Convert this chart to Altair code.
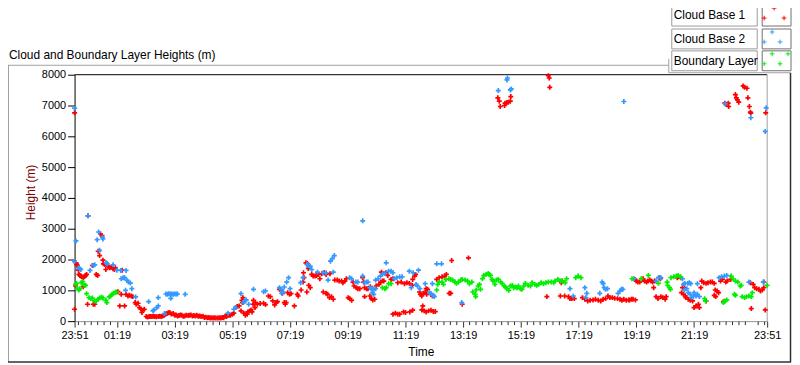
import altair as alt
import pandas as pd

# ---------------- data (minutes after 23:51, height in m) ----------------
series_names = ["Cloud Base 1", "Cloud Base 2", "Boundary Layer"]
series_colors = ["#ff0000", "#3399ff", "#00ee00"]

cb1 = [(0,6763),(0,387),(2,1140),(3,1890),(4,1840),(6,1815),(8,1655),(9,1516),(11,1484),(13,1462),(15,1440),(18,1410),(20,1440),(23,1484),(25,1516),(18,1120),(27,548),(39,548),(42,548),(28,3420),(37,1806),(45,1516),(48,1484),(49,2268),(52,2129),(54,2829),(57,2774),(59,1978),(60,1860),(63,1838),(66,1870),(70,1785),(73,1731),(76,1752),(80,1700),(83,1677),(85,1731),(65,1677),(90,957),(94,494),(104,494),(97,871),(99,1655),(107,871),(111,817),(114,839),(118,817),(121,796),(126,602),(128,548),(132,580),(135,441),(138,387),(142,355),(145,387),(140,280),
       (149,150),(152,130),(155,150),(158,150),(161,150),(164,160),(167,150),(170,140),(174,150),(177,160),(180,150),(183,170),(186,180),(189,230),(192,250),(195,270),(198,280),(201,230),(205,250),(208,190),(211,200),(214,170),(217,180),(220,200),(223,190),(226,160),(229,170),(232,190),(236,180),(239,190),(242,200),(245,170),(248,180),(251,170),(254,190),(257,160),(260,170),(263,150),(267,160),(270,120),(273,130),(276,110),(279,120),(282,100),(285,110),(288,100),(291,110),(294,100),(298,100),(301,110),(304,100),(307,120),(310,110),(313,170),(316,150),(319,190),(322,200),
       (324,194),(328,226),(331,258),(335,441),(338,474),(342,494),(346,333),(349,602),(350,763),(348,677),(352,258),(355,194),(359,226),(360,300),(364,333),(367,365),(369,300),(372,677),(376,602),(375,441),(371,548),(380,548),(386,570),(393,580),(397,538),(403,817),(407,796),(412,656),(416,527),(419,602),(422,634),(426,1032),(430,1010),(432,903),(436,602),(438,548),(440,602),(443,925),(447,871),(450,893),(457,494),(463,871),(465,817),(471,1010),(476,1570),(477,1410),(475,1268),(481,1893),(484,1871),(483,946),(486,1710),(487,1161),(490,1087),(493,1516),(496,1462),(500,1462),(503,1484),(507,1516),(510,1376),(514,1538),(519,1570),(523,1516),(517,946),(523,903),(526,871),(531,1538),(530,763),(534,796),(538,710),(541,1333),(546,1333),(550,1300),(555,1300),(558,1248),(562,1300),(565,1376),(579,1268),(581,1140),(569,763),(572,731),(576,677),
       (586,1087),(589,1054),(593,1054),(599,1410),(601,1268),(603,1087),(607,1054),(603,796),(614,817),(617,731),(620,688),(624,710),(610,1054),(615,1119),(627,1140),(633,1194),(636,1268),(640,1300),(638,1591),(647,1570),(651,1484),(643,1300),(658,1355),(662,1376),(672,1248),(679,1268),(686,1216),(691,1248),(696,1226),(702,1161),(703,1355),(707,1462),(709,1516),(717,946),(719,871),(722,817),(725,903),(729,946),(732,871),(731,1054),(734,1032),(741,871),(744,817),(724,494),(722,365),(727,333),(731,300),(736,333),(741,355),(746,312),(750,312),(662,226),(667,258),(672,226),(676,226),(684,300),(688,280),(697,300),(703,355),(753,1355),(758,1410),(764,1440),(769,1462),(773,1516),(779,903),(782,903),(784,1968),(806,548),(819,2054),
       (880,7249),(883,7140),(885,6968),(894,7000),(895,7075),(899,7097),(902,7108),(906,7140),(907,7291),(985,7968),(987,7894),(988,7592),
       (982,796),(1010,817),(1012,1248),(1014,1300),(1019,817),(1027,796),(1030,731),(1034,731),(1039,731),(1056,763),(1061,710),(1067,656),(1072,677),(1078,688),(1083,710),(1089,677),(1094,656),(1099,710),(1104,731),(1109,817),(1113,763),(1118,763),(1123,742),(1129,731),(1134,710),(1138,677),(1142,710),(1147,677),(1152,688),(1158,710),
       (1154,688),(1161,710),(1166,688),(1165,1355),(1168,1300),(1171,1268),(1175,1268),(1182,1376),(1185,1300),(1189,1268),(1192,1300),(1196,1333),(1199,1300),(1202,1268),(1206,1300),(1204,1087),(1209,796),(1213,731),(1216,1410),(1218,1376),(1219,796),(1223,763),(1228,710),(1230,796),(1253,1410),(1255,1440),(1260,1410),(1264,1087),(1268,1087),(1262,925),(1266,871),(1270,817),(1271,763),(1276,710),(1280,677),(1285,656),(1288,441),(1292,494),(1297,548),(1299,441),(1304,1300),(1308,1248),(1313,1226),(1317,1248),(1322,1268),(1326,1268),(1330,1226),(1302,1087),(1313,656),(1332,1010),(1336,978),(1339,925),(1330,839),(1333,796),(1343,1300),(1347,1355),(1354,1268),(1357,1300),(1364,1355),(1349,634),(1405,1248),(1411,1194),(1414,1087),(1418,1054),(1423,1032),(1426,978),(1430,1010),(1433,1268),(1433,1087),(1407,409),(1436,365),
       (1352,7075),(1355,7032),(1359,7075),(1360,6968),(1374,7355),(1376,7249),(1378,7183),(1381,7108),(1390,7635),(1393,7592),(1398,7560),(1400,7249),(1403,6968),(1405,6785),(1406,6753),(1437,6763)]

cb2 = [(0,6914),(0,1935),(3,2603),(8,1731),(11,1700),(13,1677),(32,1645),(39,1806),(42,1828),(28,3420),(47,2645),(50,2893),(58,2720),(59,2667),(52,2300),(66,1893),(68,1860),(80,1828),(88,1655),(96,1645),(107,1645),(97,1376),(101,1410),(104,1410),(109,1323),(112,1268),(116,1236),(119,1054),(106,1000),(127,785),(154,634),(174,763),(163,333),(165,365),(171,441),(174,494),(187,247),(190,882),(193,870),(196,890),(199,880),(202,882),(205,875),(208,885),(211,880),(214,882),(200,742),(230,871),
       (319,258),(331,387),(335,441),(346,893),(351,602),(354,656),(357,688),(362,548),(372,1032),(393,957),(397,978),(426,1087),(430,1032),(431,903),(434,946),(436,1108),(441,1268),(445,1410),(448,1054),(470,1248),(475,1410),(483,1838),(486,1806),(490,1785),(493,1677),(505,1591),(517,1570),(523,1570),(527,1333),(532,1946),(536,2032),(540,2129),(538,1591),(572,1410),(576,1376),
       (585,1268),(589,1268),(599,1462),(603,1248),(607,1268),(610,1268),(614,1087),(617,1054),(622,1032),(626,1054),(619,925),(622,871),(626,1333),(631,1376),(636,1462),(640,1516),(645,1548),(648,1893),(653,1623),(658,1623),(662,1570),(665,1376),(670,1410),(676,1440),(681,1440),(696,1623),(704,1570),(715,1655),(700,1087),(710,1194),(713,1140),(718,1054),(729,1216),(738,925),(741,893),(746,839),(748,796),(744,1216),(753,1860),(763,1860),(805,602),(599,3258),
       (881,7484),(899,7830),(900,7893),(906,7506),(908,7539),(1142,7130),(1353,7055),(1406,6602),(1438,6925),(1436,6160),
       (1030,1054),(1037,817),(1061,1087),(1065,903),(1063,763),(1092,903),(1097,1268),(1099,1216),(1101,1087),(1104,1032),(1108,1054),(1130,903),(1134,978),(1137,1032),(1140,1032),
       (1163,1376),(1209,1300),(1214,1410),(1219,1410),(1264,1376),(1266,1194),(1269,1226),(1275,1226),(1278,1248),(1281,1216),(1268,1010),(1273,1054),(1276,925),(1280,871),(1283,763),(1287,817),(1288,925),(1292,817),(1295,871),(1299,796),(1295,1216),(1340,1410),(1345,1440),(1351,1462),(1356,1484),(1432,1268),(1402,1268)]

bl = [(2,1194),(4,1226),(6,1054),(9,1010),(11,1054),(14,1248),(17,1280),(20,1161),(23,1161),(25,893),(30,763),(34,731),(37,752),(41,656),(45,656),(49,710),(52,752),(56,774),(59,752),(65,677),(67,602),(72,785),(75,817),(78,871),(81,903),(85,935),(87,946),
      (640,1087),(645,1054),(648,1087),(653,1216),(658,1216),
      (753,1010),(755,1194),(758,1268),(764,1268),(767,1194),(772,1355),(778,1376),(782,1355),(786,1333),(791,1268),(794,1226),(798,1268),(803,1333),(806,1355),(812,1333),(817,1300),(821,1216),(826,1268),(828,946),(833,871),(835,1010),(834,796),(839,1140),(844,1032),(842,1194),(848,1376),(851,1484),(856,1516),(860,1548),(865,1484),(868,1355),(870,1300),(862,1516),(874,1194),(877,1333),(881,1355),(886,1268),(889,1226),(893,1140),(896,1108),(899,1054),(903,1000),(906,1140),(910,1161),(913,1087),(917,1108),(920,1087),(923,1140),(927,1054),(930,1032),(934,1140),(937,1226),(943,1161),(948,1140),(951,1248),(957,1194),(961,1161),(965,1194),(970,1248),(975,1216),(980,1248),(985,1268),(991,1268),(996,1248),(999,1300),(1005,1355),(1010,1300),(1014,1300),(1020,1248),(1023,1376),(1042,1410),(1047,1462),(1053,1410),
      (1159,1376),(1178,1376),(1193,1484),(1214,1226),(1232,1268),(1233,1161),(1237,1087),(1239,1032),(1240,1410),(1246,1440),(1251,1462),(1255,1484),(1260,1440),(1310,731),(1312,656),(1349,602),(1352,656),(1356,688),(1365,1462),(1369,1376),(1374,1300),(1379,1268),(1384,1140),(1386,1161),(1372,871),(1374,839),(1388,796),(1393,763),(1397,796),(1402,817),(1407,796),(1409,925),(1440,1161)]

y_ticks = [0, 1000, 2000, 3000, 4000, 5000, 6000, 7000, 8000]
x_major = [0, 88, 208, 328, 448, 568, 688, 808, 928, 1048, 1168, 1288, 1440]
x_labels = ["23:51", "01:19", "03:19", "05:19", "07:19", "09:19", "11:19",
            "13:19", "15:19", "17:19", "19:19", "21:19", "23:51"]

# minor ticks: 8 between each pair of majors
step = 120 / 9
x_minor = [round(88 + k * step, 2) for k in range(-6, 102) if k % 9 != 0]
x_minor = [v for v in x_minor if 0 < v < 1440]

rows = []
for name, pts in zip(series_names, [cb1, cb2, bl]):
    for t, h in pts:
        rows.append({"series": name, "t": t, "h": h})
df = pd.DataFrame(rows)
minor_df = pd.DataFrame({"t": x_minor})

FONT = "Liberation Sans"
maj = "[" + ",".join(str(v) for v in x_major) + "]"
labs = "[" + ",".join("'" + s + "'" for s in x_labels) + "]"
label_expr = f"indexof({maj}, datum.value) >= 0 ? {labs}[indexof({maj}, datum.value)] : ''"

cross = "M-1,0L1,0M0,-1L0,1"
x_scale = alt.Scale(domain=[0, 1440], nice=False, zero=False)

points = alt.Chart(df).mark_point(
    shape=cross, filled=False, size=25, strokeWidth=1.7, opacity=1
).encode(
    x=alt.X("t:Q", scale=x_scale,
            axis=alt.Axis(values=x_major, labelExpr=label_expr, tickSize=6,
                          tickColor="#303030", domainColor="#909090", labelOverlap=False,
                          labelFlush=False, labelPadding=2, grid=False, title="Time",
                          titleFontWeight="normal", titleFontSize=12, titleFont=FONT,
                          titleColor="#000000", titleY=31, titleBaseline="middle",
                          labelFont=FONT, labelFontSize=11, labelColor="#000000")),
    y=alt.Y("h:Q", scale=alt.Scale(domain=[0, 8000], nice=False),
            axis=alt.Axis(values=y_ticks, format="d", tickSize=7, labelPadding=2,
                          tickColor="#000000", domainColor="#000000", grid=False,
                          title="Height (m)", titleFontWeight="normal", titleFontSize=12,
                          titleFont=FONT, titleColor="#7a0000", titleX=-44, titleY=118,
                          titleAlign="center", titleBaseline="middle",
                          labelFont=FONT, labelFontSize=11, labelColor="#000000")),
    color=alt.Color("series:N", scale=alt.Scale(domain=series_names, range=series_colors), legend=None),
)

# minor ticks of the time axis, placed through the shared x scale
minor_ticks = alt.Chart(minor_df).mark_rule(color="#303030", strokeWidth=1).encode(
    x=alt.X("t:Q", scale=x_scale),
    y=alt.value(248.5), y2=alt.value(252),
)

one = pd.DataFrame({"a": [0]})


def hrule(x1, x2, y, color, w=1.0):
    return alt.Chart(one).mark_rule(color=color, strokeWidth=w).encode(
        x=alt.value(x1), x2=alt.value(x2), y=alt.value(y))


def vrule(x, y1, y2, color, w=1.0):
    return alt.Chart(one).mark_rule(color=color, strokeWidth=w).encode(
        x=alt.value(x), y=alt.value(y1), y2=alt.value(y2))


def box(x1, x2, y1, y2, stroke):
    return alt.Chart(one).mark_rect(fill="#ffffff", stroke=stroke, strokeWidth=1).encode(
        x=alt.value(x1), x2=alt.value(x2), y=alt.value(y1), y2=alt.value(y2))


def label(x, y, s, size=12, color="#000000"):
    return alt.Chart(one).mark_text(align="left", baseline="middle", font=FONT,
                                    fontSize=size, color=color).encode(
        x=alt.value(x), y=alt.value(y), text=alt.value(s))


def swatch_cross(x, y, color):
    return alt.Chart(one).mark_point(shape=cross, filled=False, size=22, strokeWidth=1,
                                     color=color, opacity=1).encode(
        x=alt.value(x), y=alt.value(y))


layers = [
    # outer frame
    hrule(-67, 598, -9.5, "#a0a0a0"),
    vrule(598, -16, -2, "#a0a0a0"),
    hrule(598, 720, -2, "#a0a0a0"),
    vrule(-66.5, -9.5, 289, "#a0a0a0"),
    vrule(720.5, -2, 289, "#303030", 1.5),
    hrule(-67, 721, 289, "#303030", 1.5),
    # plot borders
    hrule(0, 697, 0, "#000000"),
    vrule(697, 0, 248, "#a0a0a0"),
    # title
    label(-66, -20, "Cloud and Boundary Layer Heights (m)", 12),
]

box_y = [(-71, -49), (-46, -26), (-24, -4)]
text_y = [-60, -36, -14]
swatch_pts = [
    [(704, -67), (694, -57), (714, -57)],
    [(702, -43), (694, -33), (710, -33)],
    [(702, -21), (718, -21), (694, -11), (710, -11)],
]
for i, name in enumerate(series_names):
    y1, y2 = box_y[i]
    layers.append(box(601, 687, y1, y2, "#9a9a9a"))
    layers.append(box(692, 721, y1, y2, "#707070"))
    layers.append(label(603, text_y[i], name, 12))
    for (px, py) in swatch_pts[i]:
        layers.append(swatch_cross(px, py, series_colors[i]))

layers.append(minor_ticks)
layers.append(points)

chart = alt.layer(*layers).properties(
    width=697, height=248,
    autosize=alt.AutoSizeParams(type="none"),
    padding={"left": 67, "top": 66, "right": 25, "bottom": 43},
    background="#ffffff",
).configure_view(stroke=None)

chart.save("out.html", embed_options={"renderer": "svg", "actions": False})
